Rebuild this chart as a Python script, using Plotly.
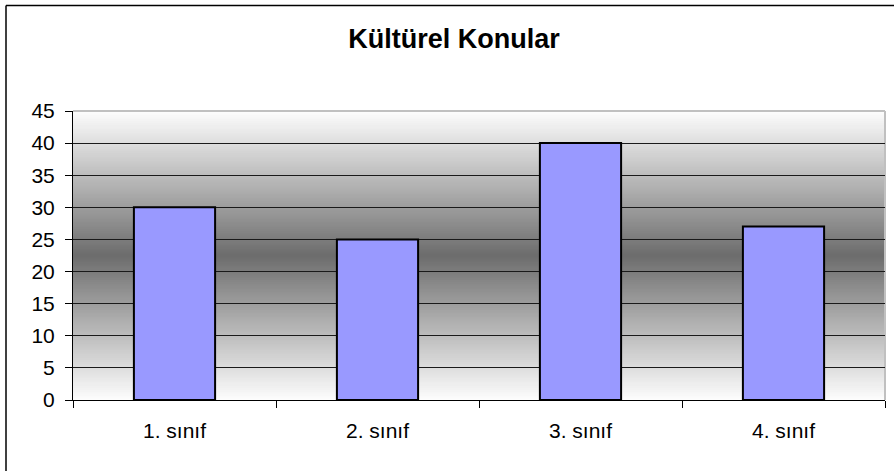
import plotly.graph_objects as go

categories = ["1. sınıf", "2. sınıf", "3. sınıf", "4. sınıf"]
values = [30, 25, 40, 27]
title_text = "Kültürel Konular"

W, H = 894, 471
L, R, T, B = 73, 9, 111, 71
pw, ph = W - L - R, H - T - B

fig = go.Figure()
fig.add_trace(go.Bar(
    x=categories, y=values, width=0.4,
    marker=dict(color="#9999FF", line=dict(color="#000000", width=2)),
))

shapes = []
# reflected vertical gradient background: nested rects from outside in
n = 150
ymax = 45
mid = ymax / 2
for i in range(n, 0, -1):
    h = mid * i / n
    d = h / mid
    c = int(round(108 + (253 - 108) * d))
    shapes.append(dict(type="rect", xref="paper", yref="y", x0=0, x1=1,
                       y0=mid - h, y1=mid + h,
                       fillcolor=f"rgb({c},{c},{c})", line=dict(width=0), layer="below"))
# top and right plot border (light gray)
shapes.append(dict(type="line", xref="paper", yref="paper", x0=0, x1=1, y0=1, y1=1,
                   line=dict(color="#c0c0c0", width=2), layer="above"))
shapes.append(dict(type="line", xref="paper", yref="paper", x0=1, x1=1, y0=0, y1=1,
                   line=dict(color="#c0c0c0", width=2), layer="between"))
# outer chart border (left and top visible)
bx = (6 - L) / pw
by = 1 + (T - 5.5) / ph
shapes.append(dict(type="line", xref="paper", yref="paper", x0=bx, x1=bx, y0=by, y1=-1,
                   line=dict(color="#000000", width=1.5)))
shapes.append(dict(type="line", xref="paper", yref="paper", x0=bx, x1=2, y0=by, y1=by,
                   line=dict(color="#000000", width=1.5)))

fig.update_layout(
    width=W, height=H,
    margin=dict(l=L, r=R, t=T, b=B, pad=0),
    paper_bgcolor="#ffffff", plot_bgcolor="#ffffff",
    showlegend=False,
    shapes=shapes,
    font=dict(family="Liberation Sans, Arial, sans-serif", size=21, color="#000000"),
    title=dict(text="<b>" + title_text + "</b>", x=454 / W, xanchor="center",
               y=1 - 39 / H, yanchor="middle", yref="container",
               font=dict(size=27, color="#000000")),
    xaxis=dict(type="category", tickson="boundaries", ticks="outside", ticklen=7,
               tickcolor="#000000", showgrid=False, showline=True, linecolor="#000000",
               linewidth=1, range=[-0.5, 3.5], tickfont=dict(size=21),
               ticklabelstandoff=12),
    yaxis=dict(range=[0, 45], dtick=5, tick0=0, ticks="outside", ticklen=7,
               tickcolor="#000000", showline=True, linecolor="#000000", linewidth=1,
               gridcolor="#1a1a1a", gridwidth=1, zeroline=False, tickfont=dict(size=21),
               ticklabelstandoff=6),
)

fig.write_html("out.html", config={"displayModeBar": False},
               post_script="document.body.style.margin='0';")
